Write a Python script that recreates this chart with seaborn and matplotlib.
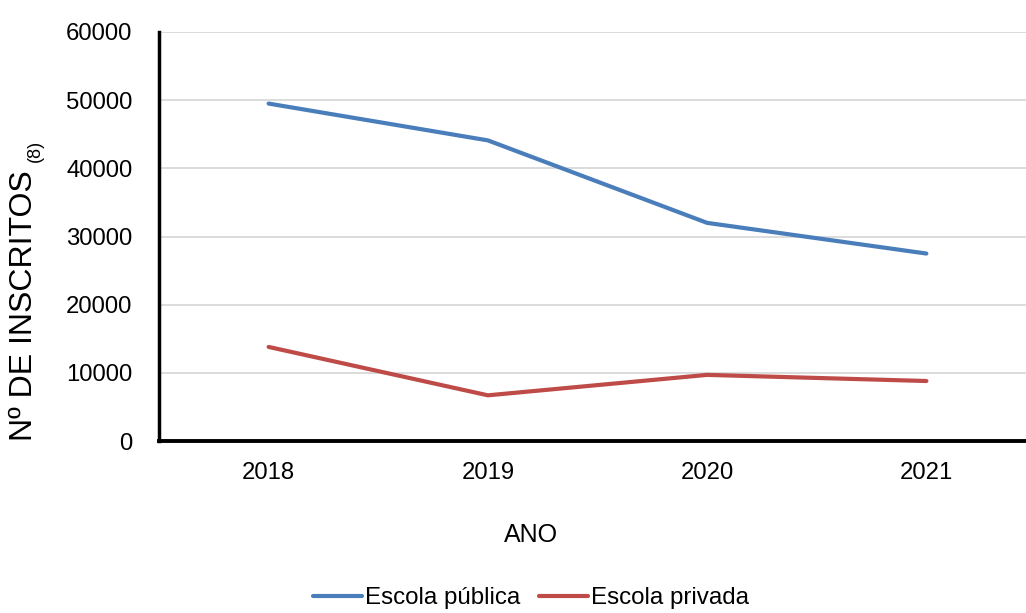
import matplotlib
matplotlib.use("Agg")
import matplotlib.pyplot as plt
from matplotlib.lines import Line2D
import seaborn as sns
import pandas as pd

anos = ["2018", "2019", "2020", "2021"]
publica = [49500, 44100, 32000, 27500]
privada = [13800, 6700, 9700, 8800]
series_names = ["Escola pública", "Escola privada"]
y_ticks = [0, 10000, 20000, 30000, 40000, 50000, 60000]

df = pd.DataFrame({
    "ano": anos * 2,
    "valor": publica + privada,
    "serie": [series_names[0]] * 4 + [series_names[1]] * 4,
})

sns.set_style("white")
plt.rcParams["font.family"] = ["Liberation Sans", "DejaVu Sans"]
plt.rcParams["text.color"] = "black"
plt.rcParams["axes.labelcolor"] = "black"

fig = plt.figure(figsize=(10.26, 6.13), dpi=100)
ax = fig.add_axes([159 / 1026, 1 - 441 / 613, (1036 - 159) / 1026, (441 - 32) / 613])

palette = {series_names[0]: "#4A7EBB", series_names[1]: "#BE4B48"}
sns.lineplot(data=df, x="ano", y="valor", hue="serie", palette=palette,
             linewidth=3.0, ax=ax, legend=False, sort=False)

ax.set_xlim(-0.5, 3.5)
ax.set_ylim(0, 60000)
ax.set_yticks(y_ticks)
ax.set_yticklabels([str(t) for t in y_ticks])
ax.yaxis.grid(True, color="#D9D9D9", linewidth=1.3)
ax.xaxis.grid(False)
ax.set_axisbelow(True)
for s in ["top", "right"]:
    ax.spines[s].set_visible(False)
ax.spines["left"].set_color("black")
ax.spines["left"].set_linewidth(2.5)
ax.spines["bottom"].set_color("black")
ax.spines["bottom"].set_linewidth(2.8)
ax.tick_params(axis="both", length=0, labelsize=17.2, colors="black")
ax.tick_params(axis="y", pad=19)
ax.tick_params(axis="x", pad=15)
ax.set_xlabel("")
ax.set_ylabel("")

fig.text(24 / 1026, 1 - 306 / 613, "Nº DE INSCRITOS", rotation=90, fontsize=23,
         ha="center", va="center")
fig.text(35 / 1026, 1 - 151 / 613, "(8)", rotation=90, fontsize=13,
         ha="center", va="center")
fig.text(531 / 1026, 1 - 535 / 613, "ANO", fontsize=18, ha="center", va="center")

handles = [Line2D([0], [0], color=palette[n], linewidth=3.0) for n in series_names]
fig.legend(handles, series_names, loc="center", ncol=2,
           bbox_to_anchor=(531 / 1026, 1 - 598 / 613), frameon=False,
           fontsize=17.4, handlelength=2.05, handletextpad=0.12,
           columnspacing=0.75, borderpad=0)

fig.savefig("out.png", dpi=100)
